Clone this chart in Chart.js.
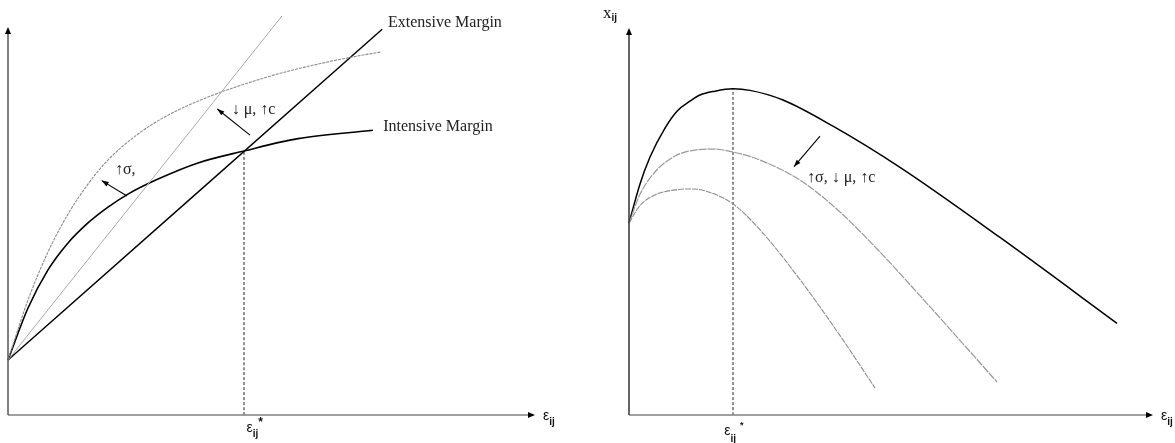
<!DOCTYPE html>
<html><head><meta charset="utf-8">
<script src="https://cdn.jsdelivr.net/npm/chart.js@4.4.0/dist/chart.umd.min.js"></script>
<style>
html,body{margin:0;padding:0;background:#fff;overflow:hidden}
#wrap{position:relative;width:1175px;height:443px}
canvas{position:absolute;top:0}
</style></head><body>
<div id="wrap">
<canvas id="left" width="587" height="443" style="left:0"></canvas>
<canvas id="right" width="588" height="443" style="left:587px"></canvas>
</div>
<script>
// ---------- LEFT PANEL DATA (schematic units) ----------
const extensiveX = [0, 71];
const extensiveY = [13.5, 99.4];
const shiftedExtX = [0, 52];
const shiftedExtY = [13.5, 102.9];
const intensiveX = [0, 3.80, 7.59, 11.39, 15.18, 18.98, 22.77, 28.46, 36.05, 44.78, 55.03, 69.26];
const intensiveY = [13.5, 27.0, 36.9, 43.9, 49.1, 53.2, 56.6, 60.5, 64.7, 67.8, 71.0, 73.2];
const shiftedIntX = [0, 3.80, 7.59, 11.39, 15.18, 18.98, 24.67, 30.36, 37.95, 49.15, 57.31, 65.28, 70.78];
const shiftedIntY = [13.5, 29.1, 41.55, 51.4, 59.2, 65.45, 72.2, 77.1, 81.8, 87.0, 89.9, 92.2, 93.5];
const leftCutoffX = 44.78;
const leftCutoffY = 67.8;
const leftNotes = ['Extensive Margin', 'Intensive Margin', '↑σ,', '↓ μ, ↑c'];
const leftNoteX = [72.1, 71.2, 20.3, 42.45];
const leftNoteY = [101.0, 74.0, 62.9, 78.4];
const leftArrowFromX = [22.58, 45.92];
const leftArrowFromY = [56.1, 71.9];
const leftArrowToX = [17.78, 39.72];
const leftArrowToY = [60.1, 78.7];

// ---------- RIGHT PANEL DATA ----------
const exportX = [0, 2.10, 4.01, 6.87, 9.16, 11.64, 13.55, 16.41, 19.85, 23.09, 29.39, 38.93, 51.72, 70.80, 93.13];
const exportY = [49.35, 59.5, 66.5, 74.0, 78.4, 81.0, 82.6, 83.6, 84.2, 83.8, 81.3, 74.5, 63.8, 45.6, 23.3];
const midX = [0, 2.10, 4.96, 8.78, 12.60, 16.03, 19.85, 25.00, 32.63, 40.27, 47.90, 58.02, 70.23];
const midY = [49.35, 56.8, 62.6, 66.75, 68.3, 68.55, 67.8, 65.7, 60.5, 52.2, 41.8, 26.7, 8.05];
const lowX = [0, 2.10, 4.96, 8.78, 12.21, 15.46, 19.85, 25.00, 32.63, 40.27, 46.95];
const lowY = [49.35, 53.9, 56.65, 57.95, 58.2, 57.3, 54.3, 47.6, 34.65, 20.1, 6.5];
const rightCutoffX = 19.85;
const rightCutoffY = 84.2;
const rightNotes = ['↑σ, ↓ μ, ↑c'];
const rightNoteX = [33.97];
const rightNoteY = [61.0];
const rightArrowFromX = [36.45];
const rightArrowFromY = [71.9];
const rightArrowToX = [31.49];
const rightArrowToY = [64.0];

// ---------- AXIS SYMBOLS ----------
const axisSymbol = 'ε';
const axisSub = 'ij';
const cutoffSup = '*';
const yAxisSymbol = 'x';

function pts(xs, ys) { return xs.map((x, i) => ({ x: x, y: ys[i] })); }

function head(ctx, x1, y1, x2, y2, len, wid) {
  const ang = Math.atan2(y2 - y1, x2 - x1);
  ctx.beginPath();
  ctx.moveTo(x2, y2);
  ctx.lineTo(x2 - len * Math.cos(ang) + wid / 2 * Math.sin(ang), y2 - len * Math.sin(ang) - wid / 2 * Math.cos(ang));
  ctx.lineTo(x2 - len * Math.cos(ang) - wid / 2 * Math.sin(ang), y2 - len * Math.sin(ang) + wid / 2 * Math.cos(ang));
  ctx.closePath();
  ctx.fill();
}

function symbol(ctx, x, y, base, sub, sup, c) {
  ctx.textAlign = 'left';
  ctx.textBaseline = 'middle';
  ctx.fillStyle = '#111';
  ctx.font = c.baseFont;
  ctx.fillText(base, x, y);
  const w = ctx.measureText(base).width;
  ctx.font = c.subFont;
  ctx.fillText(sub, x + w + c.subDx, y + c.subDy);
  if (sup) {
    const sw = ctx.measureText(sub).width;
    ctx.font = c.supFont;
    ctx.fillText(sup, x + w + sw + c.supDx, y + c.supDy);
  }
}

const schematic = {
  id: 'schematic',
  afterDatasetsDraw(chart, args, o) {
    const ctx = chart.ctx, a = chart.chartArea, sx = chart.scales.x, sy = chart.scales.y;
    ctx.save();
    // x axis
    ctx.strokeStyle = o.xAxisColor; ctx.lineWidth = 1.5; ctx.setLineDash([]);
    ctx.beginPath(); ctx.moveTo(a.left, a.bottom); ctx.lineTo(a.right - 4, a.bottom); ctx.stroke();
    ctx.fillStyle = '#000';
    head(ctx, a.left, a.bottom, a.right, a.bottom, 7, 6);
    // y axis
    ctx.strokeStyle = o.yAxisColor;
    ctx.beginPath(); ctx.moveTo(a.left, a.bottom); ctx.lineTo(a.left, a.top + 4); ctx.stroke();
    ctx.fillStyle = '#000';
    head(ctx, a.left, a.bottom, a.left, a.top, 7, 6);
    // arrows
    ctx.strokeStyle = '#000'; ctx.lineWidth = 1.1;
    o.arrows.fromX.forEach((fx, i) => {
      const x1 = sx.getPixelForValue(fx), y1 = sy.getPixelForValue(o.arrows.fromY[i]);
      const x2 = sx.getPixelForValue(o.arrows.toX[i]), y2 = sy.getPixelForValue(o.arrows.toY[i]);
      ctx.beginPath(); ctx.moveTo(x1, y1); ctx.lineTo(x2, y2); ctx.stroke();
      ctx.fillStyle = '#000';
      head(ctx, x1, y1, x2, y2, 7, 5);
    });
    // notes
    ctx.fillStyle = '#222'; ctx.font = "16px 'Liberation Serif'";
    ctx.textAlign = 'left'; ctx.textBaseline = 'middle';
    o.notes.text.forEach((t, i) => {
      ctx.fillText(t, sx.getPixelForValue(o.notes.x[i]), sy.getPixelForValue(o.notes.y[i]));
    });
    // axis label
    const sc = { baseFont: "14px 'Liberation Sans'", subFont: "bold 10px 'Liberation Sans'", supFont: "bold 12px 'Liberation Sans'", subDx: 0, subDy: 6, supDx: 0, supDy: -5 };
    symbol(ctx, a.right + 8, a.bottom + 1, axisSymbol, axisSub, null, sc);
    // cutoff label
    const cx = sx.getPixelForValue(o.cutoff.x);
    const cc = Object.assign({}, sc, o.cutoff.style);
    symbol(ctx, cx + o.cutoff.dx, a.bottom + o.cutoff.dy, axisSymbol, axisSub, cutoffSup, cc);
    if (o.yLabel) {
      symbol(ctx, a.left - 26, a.top - 14, yAxisSymbol, axisSub, null,
        { baseFont: "17px 'Liberation Serif'", subFont: "bold 10px 'Liberation Sans'", subDx: 0, subDy: 4 });
    }
    ctx.restore();
  }
};

function line(data, color, width, extra) {
  return Object.assign({ data: data, borderColor: color, borderWidth: width, pointRadius: 0, fill: false,
    cubicInterpolationMode: 'monotone', clip: false }, extra || {});
}

function make(id, datasets, pad, yMin, pluginOpts) {
  return new Chart(document.getElementById(id), {
    type: 'line',
    data: { datasets: datasets },
    options: {
      responsive: false, animation: false, events: [],
      layout: { padding: pad },
      scales: {
        x: { type: 'linear', min: 0, max: 100, display: false },
        y: { type: 'linear', min: yMin, max: 100, display: false }
      },
      plugins: { legend: { display: false }, tooltip: { enabled: false }, schematic: pluginOpts }
    },
    plugins: [schematic]
  });
}

make('left', [
  line(pts(shiftedExtX, shiftedExtY), '#aaaaaa', 1, { tension: 0 }),
  line(pts(shiftedIntX, shiftedIntY), '#8c8c8c', 1.1, { borderDash: [3, 1] }),
  line(pts(extensiveX, extensiveY), '#000', 1.4, { tension: 0 }),
  line(pts(intensiveX, intensiveY), '#000', 1.6),
  line(pts([leftCutoffX, leftCutoffX], [-0.78, leftCutoffY]), '#222', 1, { borderDash: [3, 2], tension: 0 })
], { left: 8, right: 52, top: 27, bottom: 28 }, -0.78, {
  xAxisColor: '#808080', yAxisColor: '#555',
  arrows: { fromX: leftArrowFromX, fromY: leftArrowFromY, toX: leftArrowToX, toY: leftArrowToY },
  notes: { text: leftNotes, x: leftNoteX, y: leftNoteY },
  cutoff: { x: leftCutoffX, dx: 2.5, dy: 13, style: {} },
  yLabel: false
});

make('right', [
  line(pts(lowX, lowY), '#8c8c8c', 1.1, { borderDash: [6, 1] }),
  line(pts(midX, midY), '#999999', 1.2, { borderDash: [8, 1] }),
  line(pts(exportX, exportY), '#000', 1.5),
  line(pts([rightCutoffX, rightCutoffX], [-0.52, rightCutoffY]), '#222', 1, { borderDash: [3, 2], tension: 0 })
], { left: 42, right: 22, top: 28, bottom: 28 }, -0.52, {
  xAxisColor: '#808080', yAxisColor: '#333',
  arrows: { fromX: rightArrowFromX, fromY: rightArrowFromY, toX: rightArrowToX, toY: rightArrowToY },
  notes: { text: rightNotes, x: rightNoteX, y: rightNoteY },
  cutoff: { x: rightCutoffX, dx: -8.7, dy: 16.5, style: { subDy: 7.5, supDx: 4, supDy: -5.5, supFont: "bold 9px 'Liberation Sans'" } },
  yLabel: true
});
</script>
</body></html>
